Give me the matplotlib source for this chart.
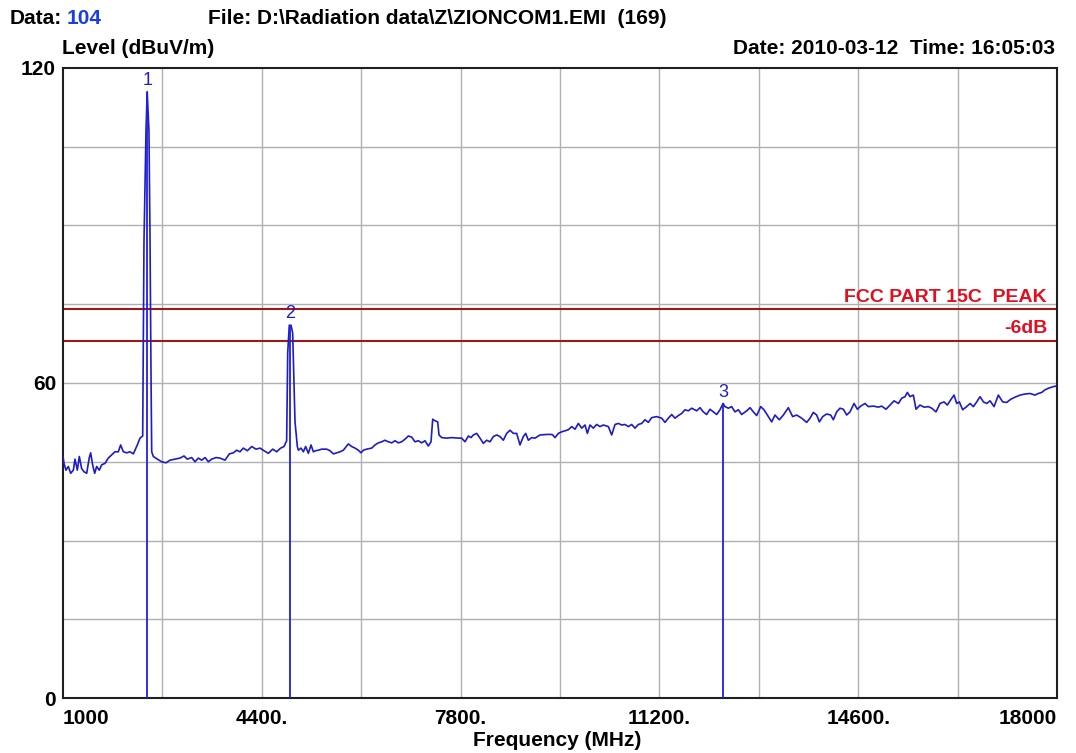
import numpy as np
import matplotlib
matplotlib.use("Agg")
import matplotlib.pyplot as plt

plt.rcParams['font.family'] = ['Liberation Sans', 'DejaVu Sans']

# trace (MHz, dBuV/m)
freq = [1000, 1017, 1051, 1091, 1131, 1177, 1205, 1245, 1279, 1319, 1359, 1405,
        1450, 1473, 1507, 1542, 1576, 1621, 1661, 1718, 1775, 1832, 1889, 1946,
        1986, 2032, 2089, 2146, 2203, 2271, 2317, 2363,
        2385, 2420, 2440, 2470, 2488, 2505, 2517,
        2545, 2613, 2687, 2762, 2830, 2915, 3001, 3069, 3126, 3201, 3258, 3315,
        3372, 3429, 3486, 3543, 3617, 3685, 3771, 3845, 3913, 3970, 4027, 4084,
        4153, 4227, 4301, 4369, 4438, 4512, 4586, 4654, 4723, 4780, 4825,
        4843, 4870, 4900, 4928, 4968, 5008,
        5025, 5071, 5111, 5150, 5196, 5242, 5282, 5321, 5367, 5424, 5510, 5567,
        5624, 5681, 5738, 5795, 5880, 5937, 5994, 6051, 6097, 6137, 6194, 6279,
        6336, 6393, 6450, 6507, 6564, 6621, 6678, 6735, 6792, 6849, 6906, 6963,
        7020, 7077, 7134, 7191, 7248, 7294, 7323, 7362, 7408, 7431, 7476, 7562,
        7647, 7761, 7818, 7875, 7933, 7978, 8018, 8075, 8132, 8189, 8246, 8303,
        8360, 8417, 8474, 8531, 8588, 8645, 8702, 8759, 8816, 8873, 8913, 8959,
        9016, 9073, 9158, 9272, 9358,
        9375, 9415, 9472, 9529, 9586, 9643, 9700, 9757, 9814, 9871, 9928, 9968,
        10013, 10070, 10127, 10184, 10241, 10327, 10384, 10441, 10498, 10555,
        10612, 10669, 10726, 10783, 10840, 10897, 10954, 11011, 11068, 11153,
        11239, 11296, 11353, 11410, 11467, 11524, 11581, 11638, 11695, 11752,
        11838, 11894, 11951, 12008, 12065, 12122, 12180, 12236, 12290, 12322,
        12379, 12436, 12493, 12550, 12607, 12693, 12750, 12807, 12864, 12932,
        12989, 13046, 13120, 13177, 13251, 13320, 13405, 13479, 13548, 13633,
        13719, 13776, 13833, 13890, 13936, 13993, 14061, 14129, 14175, 14232,
        14289, 14346, 14403, 14460, 14529, 14586, 14643, 14717, 14774, 14859,
        14945, 15002, 15076, 15144, 15213, 15287, 15344, 15401, 15441, 15486,
        15543, 15589, 15657, 15726, 15800, 15857, 15931, 15999, 16068, 16125,
        16182, 16239, 16285, 16330, 16387, 16444, 16513, 16570, 16627, 16684,
        16741, 16798, 16855, 16923, 16997, 17071, 17140, 17208, 17282, 17368,
        17453, 17539, 17624, 17681, 17738, 17795, 17852, 17909, 17966, 18000]
level = [46.0, 44.7, 43.4, 44.1, 42.8, 43.4, 45.5, 43.4, 46.0, 43.7, 43.1, 42.8,
         45.8, 46.7, 44.4, 42.8, 44.1, 43.4, 44.4, 44.7, 45.7, 46.3, 46.9, 46.9,
         48.2, 46.9, 46.7, 46.9, 46.5, 48.2, 49.5, 49.9,
         86.9, 108.2, 115.5, 108.0, 87.9, 62.0, 46.9,
         46.0, 45.5, 45.0, 44.8, 45.3, 45.5, 45.7, 46.1, 45.5, 45.8, 45.0, 45.7,
         45.3, 45.8, 45.0, 45.5, 45.8, 45.7, 45.3, 46.5, 46.7, 47.2, 46.9, 47.6,
         47.1, 47.9, 47.4, 47.6, 47.1, 46.6, 47.4, 46.9, 47.6, 47.9, 49.0,
         65.7, 71.0, 71.0, 69.5, 52.6, 47.9,
         47.2, 47.6, 46.9, 47.9, 46.6, 48.2, 46.9, 47.1, 47.2, 47.4, 47.4, 47.1,
         46.5, 46.7, 46.9, 47.2, 48.4, 47.9, 47.6, 47.2, 46.7, 47.2, 47.4, 47.6,
         48.2, 48.6, 48.8, 49.1, 48.8, 48.6, 49.0, 48.6, 48.8, 49.3, 49.9, 49.7,
         48.8, 49.0, 48.6, 49.0, 48.0, 48.8, 53.1, 52.8, 52.6, 50.1, 49.6, 49.5,
         49.6, 49.5, 49.5, 48.8, 49.9, 49.6, 50.1, 50.4, 49.5, 48.5, 49.1, 48.8,
         49.8, 50.1, 49.8, 49.1, 50.4, 51.0, 50.4, 50.4, 48.2, 49.8, 50.4, 49.1,
         49.6, 49.5, 50.1, 50.2, 50.2,
         50.1, 49.6, 50.4, 50.7, 50.9, 51.1, 51.7, 51.2, 52.3, 51.4, 52.0, 50.4,
         52.0, 51.4, 52.1, 51.7, 52.0, 51.7, 50.1, 52.1, 52.3, 52.0,
         52.1, 51.7, 52.1, 51.4, 52.1, 52.3, 53.0, 52.5, 53.4, 53.6,
         53.3, 52.5, 53.3, 54.0, 53.3, 53.8, 54.2, 54.9, 54.7, 55.2,
         54.7, 55.3, 54.5, 54.0, 55.0, 54.5, 54.0, 54.9, 56.1, 55.5,
         55.2, 55.5, 54.5, 54.9, 54.0, 54.7, 55.3, 54.5, 53.8, 55.5,
         54.9, 53.9, 52.6, 53.9, 53.0, 53.9, 55.3, 53.6, 53.9, 53.3,
         52.5, 53.3, 54.4, 53.9, 52.6, 53.6, 54.1, 53.9, 53.0, 54.5,
         55.2, 55.0, 53.9, 54.5, 56.1, 55.0, 55.6, 56.1, 55.5, 55.6,
         55.4, 55.6, 55.0, 55.8, 56.6, 56.1, 57.1, 57.4, 58.2, 57.4,
         57.7, 55.0, 55.8, 55.4, 55.5, 55.2, 54.5, 56.1, 56.4, 55.8,
         56.8, 57.7, 56.1, 56.4, 54.9, 55.4, 56.1, 55.5, 56.4, 57.4,
         56.4, 56.1, 56.6, 55.5, 57.7, 56.4, 56.3, 56.9, 57.3, 57.7,
         57.9, 58.0, 57.7, 58.0, 58.2, 58.7, 59.0, 59.2, 59.4, 59.3]

marker_freq = [2440, 4880, 12290]
marker_level = [115.5, 71.0, 56.1]
marker_names = ['1', '2', '3']

limit_levels = [74, 68]
limit_names = ['FCC PART 15C  PEAK', '-6dB']

x_ticks = [1000, 4400, 7800, 11200, 14600, 18000]
x_tick_labels = ['1000', '4400.', '7800.', '11200.', '14600.', '18000']
y_ticks = [0, 60, 120]

W, H = 1076, 753
fig = plt.figure(figsize=(W / 100, H / 100), dpi=100)
ax = fig.add_axes([63 / W, 1 - 698 / H, (1057 - 63) / W, (698 - 68) / H])

ax.set_xlim(1000, 18000)
ax.set_ylim(0, 120)

# grid: 10 x 8 divisions
for gx in np.linspace(1000, 18000, 11)[1:-1]:
    ax.axvline(gx, color='#b0b0b0', lw=1.0, zorder=1)
for gy in np.linspace(0, 120, 9)[1:-1]:
    ax.axhline(gy, color='#b0b0b0', lw=1.0, zorder=1)

for lv, name in zip(limit_levels, limit_names):
    ax.axhline(lv, color='#9a1a1a', lw=1.5, zorder=2)
    ax.text(17830, lv + 0.7, name, color='#e01020', fontsize=14, fontweight='bold',
            ha='right', va='bottom', zorder=4)

ax.plot(freq, level, color='#1c1cc8', lw=1.2, zorder=3)

for f, lv, name in zip(marker_freq, marker_level, marker_names):
    ax.vlines(f, 0, lv, color='#2020e0', lw=1.3, zorder=3)
    ax.annotate(name, (f, lv), xytext=(0, 2), textcoords='offset points',
                ha='center', va='bottom', color='#2020c0', fontsize=13, zorder=4)

ax.set_xticks(x_ticks)
ax.set_xticklabels(x_tick_labels, fontsize=15, fontweight='bold')
ax.set_yticks(y_ticks)
ax.set_yticklabels([str(v) for v in y_ticks], fontsize=15, fontweight='bold')
ax.tick_params(axis='x', length=0, pad=8)
ax.tick_params(axis='y', length=0, pad=5)
labels = ax.get_xticklabels()
labels[0].set_ha('left')
labels[-1].set_ha('right')

for sp in ax.spines.values():
    sp.set_linewidth(1.5)
    sp.set_color('#202020')

fig.text(10 / W, 1 - 18 / H, 'Data:', fontsize=15, fontweight='bold', va='center')
fig.text(67 / W, 1 - 18 / H, '104', fontsize=15, fontweight='bold', va='center', color='#1a3fe0')
fig.text(208 / W, 1 - 18 / H, r'File: D:\Radiation data\Z\ZIONCOM1.EMI  (169)',
         fontsize=15, fontweight='bold', va='center')
fig.text(62 / W, 1 - 49 / H, 'Level (dBuV/m)', fontsize=15, fontweight='bold', va='center')
fig.text(1055 / W, 1 - 49 / H, 'Date: 2010-03-12  Time: 16:05:03', fontsize=15,
         fontweight='bold', va='center', ha='right')
fig.text(557 / W, 1 - 740 / H, 'Frequency (MHz)', fontsize=15, fontweight='bold',
         va='center', ha='center')

fig.savefig('out.png', dpi=100)
